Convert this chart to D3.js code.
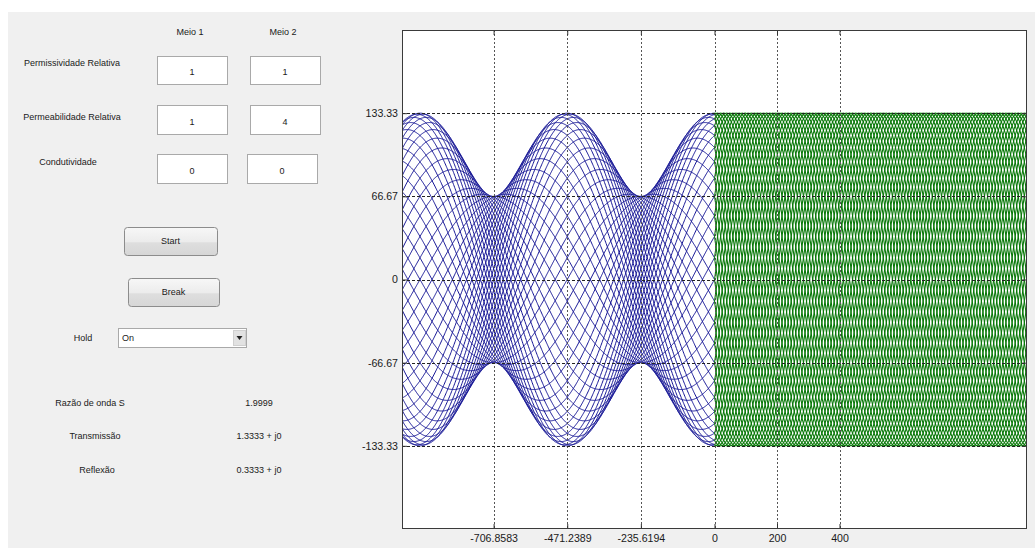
<!DOCTYPE html>
<html>
<head>
<meta charset="utf-8">
<script src="https://cdn.jsdelivr.net/npm/d3@7"></script>
<style>
  body { margin: 0; background: #fff; }
  text { font-family: "Liberation Sans", Arial, sans-serif; fill: #1a1a1a; }
</style>
</head>
<body>
<svg id="fig" width="1035" height="548"></svg>
<script>
// ---- Inputs of the two media (Meio 1: x < 0, Meio 2: x > 0) ----
const mediumLabels    = ["Meio 1", "Meio 2"];
const relPermittivity = [1, 1];
const relPermeability = [1, 4];
const conductivity    = [0, 0];

// ---- Wave settings ----
const incidentAmplitude = 100;
const wavelength1 = 942.4778;   // 300*pi in medium 1
const frameCount = 48;          // time snapshots kept on screen (Hold On)

// ---- Axes ----
const xDomain = [-1000, 1000];
const yDomain = [-200, 200];
const xTicks = [-706.8583, -471.2389, -235.6194, 0, 200, 400];
const yTicks = [-133.33, -66.67, 0, 66.67, 133.33];

// ---- Derived quantities (lossless media) ----
const eta = relPermeability.map((mu, i) => Math.sqrt(mu / relPermittivity[i]));
const gamma = (eta[1] - eta[0]) / (eta[1] + eta[0]);
const tau = 1 + gamma;
const beta1 = 2 * Math.PI / wavelength1;
const beta2 = beta1 * Math.sqrt((relPermeability[1] * relPermittivity[1]) /
                                (relPermeability[0] * relPermittivity[0]));
const round4 = v => Math.round(v * 1e4) / 1e4;
const gammaShown = round4(gamma);
const swr = round4((1 + gammaShown) / (1 - gammaShown));

const svg = d3.select("#fig");

// ---- Figure background ----
svg.append("rect").attr("x", 8).attr("y", 12).attr("width", 1027).attr("height", 536)
  .attr("fill", "#f0f0f0");

// ---- Control panel ----
const ui = svg.append("g").attr("font-size", 9);

function label(x, y, s, anchor = "middle") {
  ui.append("text").attr("x", x).attr("y", y).attr("dy", "0.35em")
    .attr("text-anchor", anchor).text(s);
}

label(190, 32, mediumLabels[0]);
label(283, 32, mediumLabels[1]);

const rows = [
  { name: "Permissividade Relativa", nx: 72, ny: 63, y: 56, h: 28, vals: relPermittivity, cols: [157, 250] },
  { name: "Permeabilidade Relativa", nx: 72, ny: 117, y: 105, h: 29, vals: relPermeability, cols: [157, 250] },
  { name: "Condutividade", nx: 68, ny: 162, y: 154, h: 29, vals: conductivity, cols: [157, 247] }
];
rows.forEach(r => {
  label(r.nx, r.ny, r.name);
  r.cols.forEach((cx, i) => {
    ui.append("rect").attr("x", cx + 0.5).attr("y", r.y + 0.5).attr("width", 70).attr("height", r.h)
      .attr("fill", "#fff").attr("stroke", "#a9a9a9");
    label(cx + 35, r.y + r.h / 2 + 2, String(r.vals[i]));
  });
});

// Push buttons
const defs = svg.append("defs");
const grad = defs.append("linearGradient").attr("id", "btn").attr("x1", 0).attr("y1", 0).attr("x2", 0).attr("y2", 1);
grad.append("stop").attr("offset", "0%").attr("stop-color", "#f7f7f7");
grad.append("stop").attr("offset", "50%").attr("stop-color", "#ececec");
grad.append("stop").attr("offset", "55%").attr("stop-color", "#dedede");
grad.append("stop").attr("offset", "100%").attr("stop-color", "#d6d6d6");

[{ s: "Start", x: 124, y: 227, w: 93, h: 28 },
 { s: "Break", x: 128, y: 278, w: 91, h: 28 }].forEach(b => {
  ui.append("rect").attr("x", b.x + 0.5).attr("y", b.y + 0.5).attr("width", b.w).attr("height", b.h)
    .attr("rx", 3).attr("fill", "url(#btn)").attr("stroke", "#8c8c8c");
  label(b.x + b.w / 2, b.y + b.h / 2, b.s);
});

// Hold popup menu
label(83, 338, "Hold");
ui.append("rect").attr("x", 118.5).attr("y", 328.5).attr("width", 128).attr("height", 19)
  .attr("fill", "#fff").attr("stroke", "#a9a9a9");
ui.append("rect").attr("x", 233.5).attr("y", 330.5).attr("width", 12).attr("height", 15)
  .attr("fill", "#e2e2e2").attr("stroke", "#d0d0d0");
ui.append("path").attr("d", "M236.5,336 L242.5,336 L239.5,340 Z").attr("fill", "#222");
label(122, 338, "On", "start");

// Results
label(90, 403, "Razão de onda S");
label(259, 403, swr.toFixed(4));
label(95, 436, "Transmissão");
label(259, 436, `${round4(tau).toFixed(4)} + j0`);
label(97, 470, "Reflexão");
label(259, 470, `${gammaShown.toFixed(4)} + j0`);

// ---- Plot ----
const plot = { left: 402, right: 1027, top: 30, bottom: 529 };
const x = d3.scaleLinear().domain(xDomain).range([plot.left, plot.right]);
const y = d3.scaleLinear().domain(yDomain).range([plot.bottom, plot.top]);

svg.append("rect").attr("x", plot.left).attr("y", plot.top)
  .attr("width", plot.right - plot.left).attr("height", plot.bottom - plot.top).attr("fill", "#fff");

defs.append("clipPath").attr("id", "clip").append("rect")
  .attr("x", plot.left).attr("y", plot.top)
  .attr("width", plot.right - plot.left).attr("height", plot.bottom - plot.top);

const frames = d3.range(frameCount).map(k => 2 * Math.PI * k / frameCount);
const xs1 = d3.range(0, 601).map(i => xDomain[0] + (0 - xDomain[0]) * i / 600);
const xs2 = d3.range(0, 801).map(i => xDomain[1] * i / 800);

const line = d3.line().x(d => x(d[0])).y(d => y(d[1]));
const traces = svg.append("g").attr("clip-path", "url(#clip)").attr("fill", "none");

// Medium 1: incident + reflected wave
traces.append("g").attr("stroke", "#161696").attr("stroke-width", 1)
  .selectAll("path").data(frames).join("path")
  .attr("d", ph => line(xs1.map(v => [v,
    incidentAmplitude * (Math.cos(ph - beta1 * v) + gamma * Math.cos(ph + beta1 * v))])));

// Medium 2: transmitted wave
traces.append("g").attr("stroke", "#087808").attr("stroke-width", 1.1)
  .selectAll("path").data(frames).join("path")
  .attr("d", ph => line(xs2.map(v => [v, tau * incidentAmplitude * Math.cos(ph - beta2 * v)])));

// Grid lines
const grid = svg.append("g").attr("fill", "none");
grid.selectAll("line.vx").data(xTicks).join("line")
  .attr("x1", d => Math.round(x(d)) + 0.5).attr("x2", d => Math.round(x(d)) + 0.5)
  .attr("y1", plot.top).attr("y2", plot.bottom)
  .attr("stroke", "#555").attr("stroke-dasharray", "2,2");
grid.selectAll("line.hy").data(yTicks).join("line")
  .attr("y1", d => Math.round(y(d)) + 0.5).attr("y2", d => Math.round(y(d)) + 0.5)
  .attr("x1", plot.left).attr("x2", plot.right)
  .attr("stroke", "#222").attr("stroke-dasharray", "3,2");

// Axes (ticks pointing inward, box on all sides)
const fmt = d => String(d);
const axB = svg.append("g").attr("transform", `translate(0,${plot.bottom})`)
  .call(d3.axisBottom(x).tickValues(xTicks).tickFormat(fmt).tickSize(-5).tickPadding(5));
const axT = svg.append("g").attr("transform", `translate(0,${plot.top})`)
  .call(d3.axisTop(x).tickValues(xTicks).tickFormat("").tickSize(-5));
const axL = svg.append("g").attr("transform", `translate(${plot.left},0)`)
  .call(d3.axisLeft(y).tickValues(yTicks).tickFormat(fmt).tickSize(-5).tickPadding(4));
const axR = svg.append("g").attr("transform", `translate(${plot.right},0)`)
  .call(d3.axisRight(y).tickValues(yTicks).tickFormat("").tickSize(-5));
[axB, axT, axL, axR].forEach(g => {
  g.select(".domain").remove();
  g.selectAll(".tick line").attr("stroke", "#333");
  g.selectAll(".tick text").attr("font-size", 10.6).attr("fill", "#1a1a1a")
    .attr("font-family", "'Liberation Sans', Arial, sans-serif");
});

svg.append("rect").attr("x", plot.left + 0.5).attr("y", plot.top + 0.5)
  .attr("width", plot.right - plot.left - 1).attr("height", plot.bottom - plot.top - 1)
  .attr("fill", "none").attr("stroke", "#3a3a3a");
</script>
</body>
</html>
